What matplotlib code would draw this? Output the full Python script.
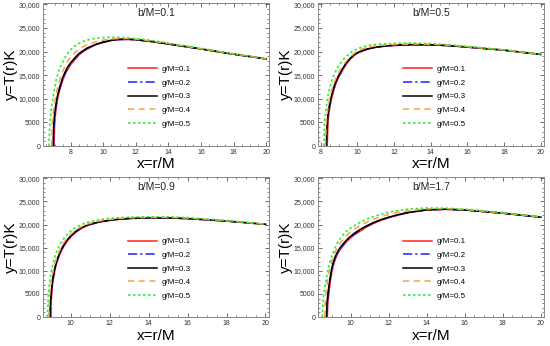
import numpy as np
import matplotlib
matplotlib.use('Agg')
import matplotlib.pyplot as plt
from matplotlib.ticker import FixedLocator, MultipleLocator, FuncFormatter

plt.rcParams['font.family'] = ['Liberation Sans', 'DejaVu Sans']

n = np.nan

# b/M values (one panel each) and g/M values (one curve each)
b_vals = ['0.1', '0.5', '0.9', '1.7']
g_vals = ['0.1', '0.2', '0.3', '0.4', '0.5']

# ---- b/M = 0.1 ----  x grid, start radius (T=0) of each curve, T values on the grid
p1_x = [6.7, 6.75, 6.8, 6.85, 6.9, 6.95, 7.0, 7.05, 7.1, 7.2, 7.3, 7.4, 7.5, 7.65, 7.8, 8.0,
        8.25, 8.5, 8.75, 9.0, 9.5, 10, 10.5, 11, 11.5, 12, 13, 14, 16, 18, 20]
p1_start = [6.97, 6.94, 6.91, 6.82, 6.66]
p1_g1 = [n, n, n, n, n, n, 4300, 6500, 8000, 10300, 11700, 12800, 13900, 15200, 16200, 17300,
         18300, 19300, 19950, 20550, 21400, 21950, 22350, 22550, 22580, 22500, 22100, 21600, 20550, 19450, 18450]
p1_g2 = [n, n, n, n, n, 2500, 5700, 7300, 8600, 10600, 12000, 13100, 14200, 15450, 16450, 17500,
         18500, 19450, 20070, 20650, 21450, 22000, 22380, 22570, 22600, 22520, 22110, 21610, 20560, 19450, 18450]
p1_g3 = [n, n, n, n, n, 4800, 6700, 8100, 9200, 11000, 12300, 13400, 14500, 15700, 16700, 17700,
         18700, 19600, 20200, 20750, 21500, 22050, 22420, 22600, 22620, 22540, 22120, 21620, 20570, 19460, 18460]
p1_g4 = [n, n, n, 4300, 6400, 8000, 9300, 10300, 11200, 12600, 13800, 15000, 15800, 16900, 17900, 18900,
         19800, 20500, 21000, 21450, 22050, 22450, 22680, 22760, 22740, 22650, 22200, 21700, 20600, 19500, 18470]
p1_g5 = [4200, 6300, 7800, 9000, 10100, 11100, 12200, 13100, 14000, 15300, 16300, 17100, 17800, 18800, 19650, 20450,
         21200, 21750, 22150, 22450, 22800, 22970, 23030, 23000, 22920, 22780, 22350, 21800, 20700, 19550, 18500]

# ---- b/M = 0.5 ----
p2_x = [8.2, 8.25, 8.3, 8.35, 8.4, 8.45, 8.5, 8.6, 8.7, 8.8, 8.9, 9.0, 9.2, 9.4, 9.6, 9.8,
        10.0, 10.3, 10.6, 11.0, 11.5, 12, 13, 14, 15, 16, 18, 20]
p2_start = [8.35, 8.32, 8.3, 8.25, 8.17]
p2_g1 = [n, n, n, n, 5200, 7000, 8300, 10200, 11700, 12900, 13900, 14750, 16100, 17400, 18350, 19100,
         19650, 20150, 20550, 20900, 21150, 21300, 21450, 21430, 21250, 20950, 20300, 19400]
p2_g2 = [n, n, n, 4000, 6300, 7700, 8800, 10600, 12000, 13200, 14150, 14950, 16300, 17550, 18450, 19200,
         19720, 20200, 20590, 20920, 21170, 21320, 21460, 21440, 21260, 20960, 20300, 19400]
p2_g3 = [n, n, n, 5000, 6900, 8100, 9200, 10900, 12300, 13400, 14350, 15100, 16450, 17650, 18550, 19300,
         19800, 20260, 20630, 20950, 21190, 21340, 21480, 21450, 21270, 20970, 20310, 19410]
p2_g4 = [n, n, 4800, 6800, 8200, 9400, 10400, 11900, 13100, 14100, 15000, 15700, 17000, 18000, 18850, 19550,
         20100, 20600, 20950, 21200, 21400, 21500, 21620, 21560, 21350, 21030, 20350, 19430]
p2_g5 = [4500, 6700, 8300, 9700, 10800, 11700, 12500, 13800, 14800, 15700, 16450, 17100, 18200, 19000, 19700, 20200,
         20600, 21000, 21300, 21500, 21650, 21750, 21800, 21700, 21450, 21100, 20400, 19450]

# ---- b/M = 0.9 ----
p3_x = [8.85, 8.9, 8.95, 9.0, 9.05, 9.1, 9.2, 9.3, 9.4, 9.5, 9.65, 9.8, 10.0, 10.25, 10.5, 10.75,
        11.0, 11.5, 12, 12.5, 13, 14, 15, 16, 18, 20]
p3_start = [8.98, 8.96, 8.94, 8.88, 8.8]
p3_g1 = [n, n, n, 3500, 6200, 8000, 10300, 11900, 13100, 14100, 15300, 16300, 17300, 18300, 19050, 19600,
         20000, 20550, 20900, 21150, 21300, 21450, 21430, 21280, 20750, 20050]
p3_g2 = [n, n, n, 4500, 6800, 8400, 10600, 12100, 13300, 14300, 15450, 16450, 17400, 18400, 19120, 19660,
         20050, 20580, 20920, 21170, 21320, 21460, 21440, 21290, 20760, 20050]
p3_g3 = [n, n, 2500, 5400, 7300, 8800, 10900, 12400, 13500, 14500, 15650, 16600, 17550, 18500, 19200, 19720,
         20100, 20620, 20950, 21190, 21340, 21480, 21460, 21310, 20770, 20060]
p3_g4 = [n, 3200, 6000, 7700, 9000, 10000, 11700, 13000, 14100, 15000, 16100, 17000, 17900, 18800, 19450, 19950,
         20300, 20800, 21100, 21320, 21450, 21580, 21560, 21400, 20830, 20080]
p3_g5 = [4500, 6600, 8400, 9700, 10800, 11700, 13200, 14400, 15300, 16100, 17000, 17800, 18600, 19350, 19900, 20350,
         20650, 21100, 21350, 21500, 21600, 21700, 21680, 21500, 20900, 20100]

# ---- b/M = 1.7 ----
p4_x = [8.55, 8.6, 8.65, 8.7, 8.75, 8.8, 8.85, 8.9, 9.0, 9.1, 9.2, 9.35, 9.5, 9.7, 9.9, 10.2,
        10.5, 10.8, 11.2, 11.6, 12, 12.5, 13, 14, 15, 16, 18, 20]
p4_start = [8.77, 8.74, 8.72, 8.63, 8.5]
p4_g1 = [n, n, n, n, n, 3000, 5000, 6800, 9600, 11300, 12600, 14000, 14900, 15900, 16800, 17800,
         18600, 19400, 20250, 20950, 21500, 22050, 22550, 23150, 23300, 23150, 22450, 21600]
p4_g2 = [n, n, n, n, 1800, 4200, 5900, 7500, 10100, 11800, 12950, 14200, 15100, 16100, 17000, 18000,
         18800, 19550, 20350, 21000, 21550, 22100, 22580, 23170, 23310, 23160, 22460, 21600]
p4_g3 = [n, n, n, n, 3000, 5000, 6600, 8100, 10500, 12100, 13200, 14400, 15300, 16300, 17150, 18150,
         18950, 19650, 20450, 21080, 21600, 22150, 22620, 23200, 23330, 23180, 22470, 21610]
p4_g4 = [n, n, 2500, 5000, 6800, 8300, 9500, 10500, 12000, 13200, 14200, 15400, 16300, 17300, 18100, 19050,
         19800, 20450, 21150, 21750, 22200, 22650, 23000, 23400, 23450, 23250, 22520, 21650]
p4_g5 = [3800, 5300, 6600, 7800, 9000, 10100, 11000, 11800, 13100, 14200, 15200, 16400, 17300, 18300, 19000, 19800,
         20500, 21100, 21750, 22250, 22650, 23050, 23350, 23600, 23550, 23350, 22600, 21700]

panels = [
    (p1_x, p1_start, [p1_g1, p1_g2, p1_g3, p1_g4, p1_g5]),
    (p2_x, p2_start, [p2_g1, p2_g2, p2_g3, p2_g4, p2_g5]),
    (p3_x, p3_start, [p3_g1, p3_g2, p3_g3, p3_g4, p3_g5]),
    (p4_x, p4_start, [p4_g1, p4_g2, p4_g3, p4_g4, p4_g5]),
]
xlims = [(6.29, 20.18), (7.85, 20.19), (8.58, 20.18), (8.28, 20.17)]
x_major = [[8, 10, 12, 14, 16, 18, 20], [8, 10, 12, 14, 16, 18, 20],
           [10, 12, 14, 16, 18, 20], [10, 12, 14, 16, 18, 20]]
y_ticks = [0, 5000, 10000, 15000, 20000, 25000, 30000]

colors = ['#ff2020', '#2020ff', '#000000', '#ffa040', '#30ee30']
styles = ['-', (0, (6, 2, 1.5, 2)), '-', (0, (4, 3)), (0, (1.5, 1.5))]
widths = [1.1, 1.1, 1.1, 1.1, 1.2]

# axes rectangles in pixels: left, top, right, bottom
boxes = [(43, 3, 269, 146), (318, 3, 544, 146), (43, 177, 269, 317), (318, 177, 544, 317)]
W, H = 550, 346

def yfmt(v, pos):
    v = int(round(v))
    if v >= 10000:
        return '{:,}'.format(v)
    return str(v)

fig = plt.figure(figsize=(5.5, 3.46), dpi=100)
for i in range(4):
    l, t, r, b = boxes[i]
    ax = fig.add_axes([l / W, 1 - b / H, (r - l) / W, (b - t) / H])
    gx, starts, curves = panels[i]
    gx = np.array(gx)
    for j in range(5):
        gy = np.array(curves[j], dtype=float)
        ok = ~np.isnan(gy)
        xs = np.concatenate([[starts[j]], gx[ok]])
        ys = np.concatenate([[0.0], gy[ok]])
        ax.plot(xs, ys, color=colors[j], linestyle=styles[j], lw=widths[j],
                label='g/M=' + g_vals[j])
    ax.set_xlim(*xlims[i])
    ax.set_ylim(0, 30300)
    ax.xaxis.set_major_locator(FixedLocator(x_major[i]))
    ax.xaxis.set_minor_locator(MultipleLocator(0.5))
    ax.yaxis.set_major_locator(FixedLocator(y_ticks))
    ax.yaxis.set_minor_locator(MultipleLocator(1000))
    ax.yaxis.set_major_formatter(FuncFormatter(yfmt))
    ax.tick_params(which='both', direction='in', top=True, right=True,
                   labelsize=5, labelcolor='#333333', color='#555555', pad=2)
    ax.tick_params(which='major', length=3, width=0.6)
    ax.tick_params(which='minor', length=1.6, width=0.5)
    for s in ax.spines.values():
        s.set_color('#888888')
        s.set_linewidth(0.7)
    ax.text(0.5, 0.93, 'b/M=' + b_vals[i], transform=ax.transAxes,
            ha='center', va='center', fontsize=7.5, color='#222222')
    ax.set_xlabel('x=r/M', fontsize=11, va='center')
    ax.set_ylabel('y=T(r)K', fontsize=11, va='center')
    ax.xaxis.set_label_coords(0.5, -(17.5 if i < 2 else 18.5) / (b - t))
    ax.yaxis.set_label_coords(-32 / (r - l), 0.5)
    ax.legend(loc='center left', bbox_to_anchor=(0.345, 0.345), frameon=False,
              fontsize=5.8, handlelength=3.6, labelspacing=0.74, handletextpad=0.5)

fig.savefig('out.png', dpi=100)
